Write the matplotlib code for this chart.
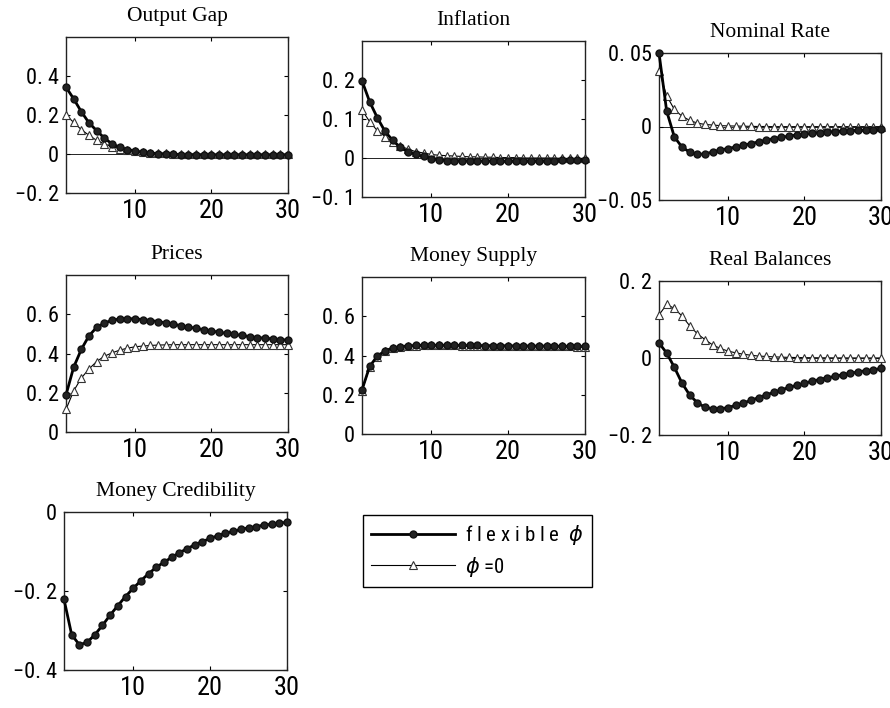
import matplotlib
matplotlib.use("Agg")
import matplotlib.pyplot as plt
from matplotlib import font_manager
from matplotlib.lines import Line2D

periods = list(range(1, 31))

output_gap_flex = [0.343, 0.283, 0.217, 0.160, 0.120, 0.082, 0.052, 0.035, 0.023, 0.016,
                   0.009, 0.005, 0.002, 0.000, -0.002, -0.003, -0.004, -0.004, -0.004, -0.004,
                   -0.004, -0.004, -0.004, -0.004, -0.004, -0.004, -0.004, -0.004, -0.004, -0.004]
output_gap_zero = [0.200, 0.162, 0.125, 0.096, 0.070, 0.052, 0.038, 0.028, 0.021, 0.014,
                   0.010, 0.007, 0.005, 0.003, 0.002, 0.001, 0.000, -0.001, -0.001, -0.002,
                   -0.002, -0.002, -0.002, -0.002, -0.002, -0.002, -0.002, -0.002, -0.002, -0.002]

inflation_flex = [0.198, 0.144, 0.103, 0.068, 0.045, 0.027, 0.016, 0.009, 0.004, -0.002,
                  -0.005, -0.007, -0.008, -0.008, -0.008, -0.008, -0.008, -0.008, -0.008, -0.008,
                  -0.007, -0.007, -0.007, -0.007, -0.007, -0.007, -0.006, -0.006, -0.006, -0.006]
inflation_zero = [0.123, 0.093, 0.070, 0.055, 0.041, 0.030, 0.023, 0.016, 0.013, 0.009,
                  0.007, 0.006, 0.005, 0.004, 0.003, 0.003, 0.002, 0.002, 0.001, 0.001,
                  0.001, 0.000, 0.000, 0.000, 0.000, 0.000, -0.001, -0.001, -0.001, -0.001]

nominal_flex = [0.0500, 0.0105, -0.0070, -0.0140, -0.0174, -0.0190, -0.0186, -0.0174, -0.0160, -0.0150,
                -0.0140, -0.0128, -0.0116, -0.0105, -0.0093, -0.0082, -0.0074, -0.0065, -0.0058, -0.0051,
                -0.0047, -0.0043, -0.0039, -0.0035, -0.0032, -0.0029, -0.0026, -0.0024, -0.0022, -0.0020]
nominal_zero = [0.0380, 0.0210, 0.0116, 0.0070, 0.0042, 0.0023, 0.0014, 0.0010, 0.0006, 0.0004,
                0.0003, 0.0002, 0.0001, 0.0000, 0.0000, -0.0001, -0.0001, -0.0001, -0.0001, -0.0001,
                -0.0001, -0.0001, -0.0001, -0.0001, -0.0001, -0.0001, -0.0001, -0.0001, -0.0001, -0.0001]

prices_flex = [0.189, 0.330, 0.421, 0.490, 0.533, 0.555, 0.569, 0.576, 0.578, 0.576,
               0.573, 0.568, 0.563, 0.556, 0.549, 0.542, 0.535, 0.528, 0.521, 0.514,
               0.509, 0.502, 0.497, 0.492, 0.486, 0.481, 0.478, 0.474, 0.471, 0.468]
prices_zero = [0.115, 0.209, 0.275, 0.321, 0.359, 0.386, 0.403, 0.417, 0.427, 0.434,
               0.438, 0.441, 0.443, 0.444, 0.445, 0.445, 0.445, 0.445, 0.445, 0.445,
               0.445, 0.445, 0.445, 0.445, 0.445, 0.445, 0.445, 0.445, 0.445, 0.445]

money_flex = [0.225, 0.345, 0.397, 0.424, 0.438, 0.445, 0.449, 0.451, 0.452, 0.452,
              0.452, 0.452, 0.452, 0.451, 0.451, 0.451, 0.450, 0.450, 0.450, 0.449,
              0.449, 0.449, 0.448, 0.448, 0.448, 0.447, 0.447, 0.447, 0.446, 0.446]
money_zero = [0.220, 0.340, 0.394, 0.422, 0.437, 0.444, 0.448, 0.450, 0.451, 0.451,
              0.451, 0.451, 0.451, 0.450, 0.450, 0.450, 0.449, 0.449, 0.449, 0.448,
              0.448, 0.448, 0.447, 0.447, 0.447, 0.446, 0.446, 0.446, 0.445, 0.445]

real_flex = [0.039, 0.013, -0.024, -0.065, -0.096, -0.116, -0.128, -0.132, -0.132, -0.129,
             -0.123, -0.117, -0.110, -0.103, -0.096, -0.089, -0.083, -0.076, -0.071, -0.066,
             -0.060, -0.056, -0.051, -0.048, -0.043, -0.040, -0.036, -0.033, -0.031, -0.027]
real_zero = [0.112, 0.139, 0.129, 0.109, 0.084, 0.063, 0.048, 0.034, 0.025, 0.018,
             0.0135, 0.0099, 0.0072, 0.0050, 0.0040, 0.0030, 0.0022, 0.0016, 0.0012, 0.0009,
             0.0007, 0.0005, 0.0004, 0.0003, 0.0002, 0.0002, 0.0001, 0.0001, 0.0001, 0.0001]

credibility_flex = [-0.221, -0.311, -0.336, -0.330, -0.311, -0.287, -0.261, -0.237, -0.214, -0.193,
                    -0.174, -0.156, -0.140, -0.127, -0.115, -0.103, -0.093, -0.083, -0.075, -0.067,
                    -0.060, -0.054, -0.049, -0.044, -0.040, -0.037, -0.033, -0.031, -0.028, -0.026]

titles = ["Output Gap", "Inflation", "Nominal Rate", "Prices", "Money Supply",
          "Real Balances", "Money Credibility"]
legend_labels = ["f l e x i b l e  $\\phi$", "$\\phi$ =0"]

avail = {f.name for f in font_manager.fontManager.ttflist}
tick_font = "DejaVu Sans"
for cand in ["Liberation Sans Narrow", "Roboto Condensed", "DejaVu Sans Condensed",
             "Liberation Sans"]:
    if cand in avail:
        tick_font = cand
        break

W, H = 890, 708
fig = plt.figure(figsize=(W / 100, H / 100), dpi=100)
fig.patch.set_facecolor("white")


def px_axes(left, top, right, bottom):
    return fig.add_axes([left / W, (H - bottom) / H, (right - left) / W, (bottom - top) / H])


def fmt(v):
    if abs(v) < 1e-12:
        return "0"
    s = f"{v:g}"
    s = s.replace("0.", "0. ")
    return s.replace("-", "\u2212")


def style(ax, title, ylim, yticks, zero_line=False):
    ax.set_xlim(1, 30)
    ax.set_ylim(*ylim)
    ax.set_xticks([10, 20, 30])
    ax.set_xticklabels(["10", "20", "30"], fontfamily=tick_font, fontsize=19)
    ax.set_yticks(yticks)
    ax.set_yticklabels([fmt(v) for v in yticks], fontfamily=tick_font, fontsize=16)
    ax.tick_params(direction="in", top=True, right=True, length=3, width=0.8)
    ax.tick_params(axis="x", pad=4)
    ax.tick_params(axis="y", pad=5)
    for sp in ax.spines.values():
        sp.set_linewidth(1.0)
        sp.set_color("#222222")
    ax.set_title(title, fontfamily="Liberation Serif", fontsize=15.5, pad=11.5)
    if zero_line:
        ax.axhline(0, color="black", lw=0.6, zorder=1)


def plot_pair(ax, flex, zero):
    ax.plot(periods, zero, color="black", lw=0.8, marker="^", markersize=6,
            markerfacecolor="white", markeredgecolor="#333333", markeredgewidth=0.8, zorder=3,
            clip_on=False)
    ax.plot(periods, flex, color="black", lw=2.0, marker="o", markersize=5,
            markerfacecolor="#222222", markeredgecolor="#111111", zorder=4, clip_on=False)


ax1 = px_axes(66, 37, 288, 193)
plot_pair(ax1, output_gap_flex, output_gap_zero)
style(ax1, titles[0], (-0.2, 0.6), [-0.2, 0, 0.2, 0.4], zero_line=True)

ax2 = px_axes(362, 41, 585, 197)
plot_pair(ax2, inflation_flex, inflation_zero)
style(ax2, titles[1], (-0.1, 0.3), [-0.1, 0, 0.1, 0.2], zero_line=True)

ax3 = px_axes(659, 53, 881, 200)
plot_pair(ax3, nominal_flex, nominal_zero)
style(ax3, titles[2], (-0.05, 0.05), [-0.05, 0, 0.05], zero_line=True)

ax4 = px_axes(66, 275, 288, 432)
plot_pair(ax4, prices_flex, prices_zero)
style(ax4, titles[3], (0, 0.8), [0, 0.2, 0.4, 0.6])

ax5 = px_axes(362, 277, 585, 434)
plot_pair(ax5, money_flex, money_zero)
style(ax5, titles[4], (0, 0.8), [0, 0.2, 0.4, 0.6])

ax6 = px_axes(659, 281, 881, 435)
plot_pair(ax6, real_flex, real_zero)
style(ax6, titles[5], (-0.2, 0.2), [-0.2, 0, 0.2], zero_line=True)

ax7 = px_axes(64, 512, 287, 670)
ax7.plot(periods, credibility_flex, color="black", lw=2.0, marker="o", markersize=5,
         markerfacecolor="#222222", markeredgecolor="#111111", zorder=4, clip_on=False)
style(ax7, titles[6], (-0.4, 0), [-0.4, -0.2, 0])

h1 = Line2D([], [], color="black", lw=2.0, marker="o", markersize=5,
            markerfacecolor="#222222", markeredgecolor="#111111")
h2 = Line2D([], [], color="black", lw=0.8, marker="^", markersize=6,
            markerfacecolor="white", markeredgecolor="#333333", markeredgewidth=0.8)
leg = fig.legend([h1, h2], legend_labels, loc="upper left",
                 bbox_to_anchor=(363 / W, (H - 515) / H), borderaxespad=0,
                 prop={"family": tick_font, "size": 15}, handlelength=4.0,
                 handletextpad=0.5, labelspacing=0.35, borderpad=0.4,
                 fancybox=False, framealpha=1, edgecolor="black")
leg.get_frame().set_linewidth(1.0)

fig.savefig("out.png", dpi=100)
